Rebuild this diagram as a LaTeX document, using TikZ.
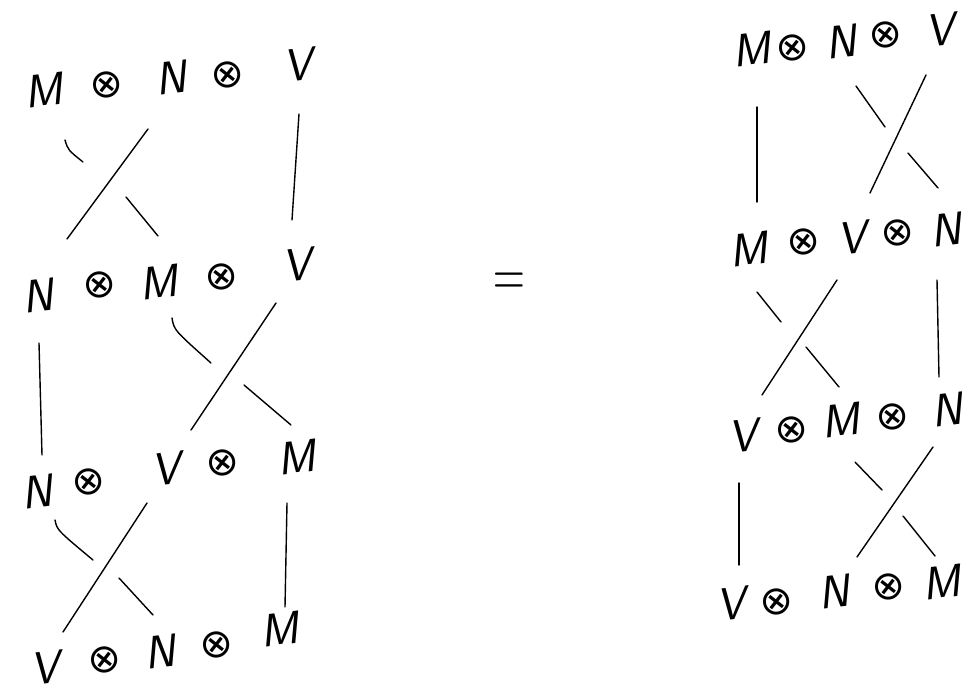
\documentclass[tikz,border=0pt]{standalone}
\usepackage{fontspec}
\newfontfamily\symfnt{DejaVu Sans}
\begin{document}
\begin{tikzpicture}[x=1pt,y=-1pt,
  lab/.style={font=\fontsize{46}{46}\selectfont\sffamily\slshape, inner sep=0pt, rotate=7},
  tens/.style={font=\fontsize{40}{40}\selectfont\symfnt, inner sep=0pt, rotate=7},
  strand/.style={line width=1.4pt, line cap=round}]
\useasboundingbox[fill=white] (0,0) rectangle (980,698);

% ---------- left side ----------
% row 1
\node[lab]  (l1a) at (43,90)  {M};
\node[tens] (l1b) at (107,85) {⊗};
\node[lab]  (l1c) at (171,78) {N};
\node[tens] (l1d) at (228,75) {⊗};
\node[lab]  (l1e) at (298,65) {V};
% row 2
\node[lab]  (l2a) at (38,296)  {N};
\node[tens] (l2b) at (100,285) {⊗};
\node[lab]  (l2c) at (158,282) {M};
\node[tens] (l2d) at (222,277) {⊗};
\node[lab]  (l2e) at (297,265) {V};
% row 3
\node[lab]  (l3a) at (37,492)  {N};
\node[tens] (l3b) at (89,482)  {⊗};
\node[lab]  (l3c) at (166,469) {V};
\node[tens] (l3d) at (223,463) {⊗};
\node[lab]  (l3e) at (296,457) {M};
% row 4
\node[lab]  (l4a) at (45,668)  {V};
\node[tens] (l4b) at (105,660) {⊗};
\node[lab]  (l4c) at (160,652) {N};
\node[tens] (l4d) at (217,645) {⊗};
\node[lab]  (l4e) at (279,629) {M};

% crossing 1
\coordinate (p1a) at (65,140);  \coordinate (p1b) at (83,162);
\coordinate (p1c) at (126,197); \coordinate (p1d) at (158,236);
\coordinate (p1e) at (148,129); \coordinate (p1f) at (67,239);
\coordinate (p1g) at (299,114); \coordinate (p1h) at (292,220);
\draw[strand] (p1a) .. controls (68,150) .. (p1b);
\draw[strand] (p1c) -- (p1d);
\draw[strand] (p1e) -- (p1f);
\draw[strand] (p1g) -- (p1h);
% crossing 2
\coordinate (p2a) at (172,318); \coordinate (p2b) at (211,363);
\coordinate (p2c) at (244,385); \coordinate (p2d) at (291,425);
\coordinate (p2e) at (276,303); \coordinate (p2f) at (191,430);
\coordinate (p2g) at (39,343);  \coordinate (p2h) at (42,455);
\draw[strand] (p2a) .. controls (174,330) .. (p2b);
\draw[strand] (p2c) -- (p2d);
\draw[strand] (p2e) -- (p2f);
\draw[strand] (p2g) -- (p2h);
% crossing 3
\coordinate (p3a) at (55,520);  \coordinate (p3b) at (93,560);
\coordinate (p3c) at (119,578); \coordinate (p3d) at (153,615);
\coordinate (p3e) at (147,503); \coordinate (p3f) at (63,632);
\coordinate (p3g) at (287,503); \coordinate (p3h) at (285,607);
\draw[strand] (p3a) .. controls (57,530) .. (p3b);
\draw[strand] (p3c) -- (p3d);
\draw[strand] (p3e) -- (p3f);
\draw[strand] (p3g) -- (p3h);

% equals sign
\node[font=\fontsize{44}{44}\selectfont, yscale=1.5, inner sep=0pt] (eq) at (509,285) {=};

% ---------- right side ----------
% row 1
\node[lab]  (r1a) at (751,49) {M};
\node[tens] (r1b) at (793,48) {⊗};
\node[lab]  (r1c) at (841,42) {N};
\node[tens] (r1d) at (886,35) {⊗};
\node[lab]  (r1e) at (940,30) {V};
% row 2
\node[lab]  (r2a) at (748,249) {M};
\node[tens] (r2b) at (804,242) {⊗};
\node[lab]  (r2c) at (852,238) {V};
\node[tens] (r2d) at (898,233) {⊗};
\node[lab]  (r2e) at (946,230) {N};
% row 3
\node[lab]  (r3a) at (743,436) {V};
\node[tens] (r3b) at (792,430) {⊗};
\node[lab]  (r3c) at (840,420) {M};
\node[tens] (r3d) at (893,417) {⊗};
\node[lab]  (r3e) at (947,410) {N};
% row 4
\node[lab]  (r4a) at (731,604) {V};
\node[tens] (r4b) at (777,602) {⊗};
\node[lab]  (r4c) at (834,592) {N};
\node[tens] (r4d) at (889,587) {⊗};
\node[lab]  (r4e) at (941,582) {M};

% crossing 4
\coordinate (q1a) at (856,86);  \coordinate (q1b) at (885,127);
\coordinate (q1c) at (908,153); \coordinate (q1d) at (938,188);
\coordinate (q1e) at (926,75);  \coordinate (q1f) at (870,193);
\coordinate (q1g) at (757,107); \coordinate (q1h) at (757,202);
\draw[strand] (q1a) -- (q1b);
\draw[strand] (q1c) -- (q1d);
\draw[strand] (q1e) -- (q1f);
\draw[strand] (q1g) -- (q1h);
% crossing 5
\coordinate (q2a) at (757,292); \coordinate (q2b) at (781,322);
\coordinate (q2c) at (806,347); \coordinate (q2d) at (839,387);
\coordinate (q2e) at (837,280); \coordinate (q2f) at (762,395);
\coordinate (q2g) at (937,280); \coordinate (q2h) at (939,377);
\draw[strand] (q2a) -- (q2b);
\draw[strand] (q2c) -- (q2d);
\draw[strand] (q2e) -- (q2f);
\draw[strand] (q2g) -- (q2h);
% crossing 6
\coordinate (q3a) at (855,462); \coordinate (q3b) at (882,490);
\coordinate (q3c) at (903,516); \coordinate (q3d) at (935,556);
\coordinate (q3e) at (933,447); \coordinate (q3f) at (857,557);
\coordinate (q3g) at (739,483); \coordinate (q3h) at (739,565);
\draw[strand] (q3a) -- (q3b);
\draw[strand] (q3c) -- (q3d);
\draw[strand] (q3e) -- (q3f);
\draw[strand] (q3g) -- (q3h);
\end{tikzpicture}
\end{document}
